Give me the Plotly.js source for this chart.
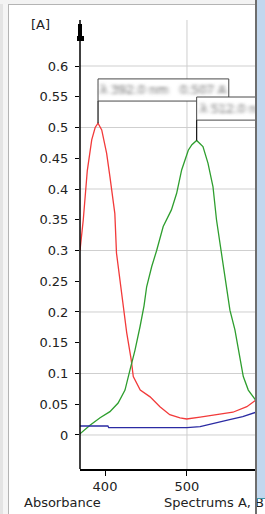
<!DOCTYPE html>
<html>
<head>
<meta charset="utf-8">
<script src="https://cdn.plot.ly/plotly-3.0.1.min.js"></script>
<style>
  html, body { margin:0; padding:0; background:#ffffff; overflow:hidden; }
  #wrap { position:relative; width:265px; height:514px; }
  #chart { position:absolute; left:0; top:0; width:265px; height:514px; }
  .ov { position:absolute; pointer-events:none; }
</style>
</head>
<body>
<svg width="0" height="0" style="position:absolute">
  <defs>
    <filter id="smudge" x="-10%" y="-60%" width="120%" height="220%">
      <feGaussianBlur stdDeviation="1.9 1.4"/>
    </filter>
  </defs>
</svg>
<div id="wrap">
  <div id="chart"></div>
  <!-- window frame decoration -->
  <div class="ov" style="left:0;top:0;width:3px;height:514px;background:#e4e4e4;"></div>
  <div class="ov" style="left:3px;top:0;width:5px;height:514px;background:#f5f5f5;"></div>
  <div class="ov" style="left:8px;top:4px;width:1px;height:510px;background:#b4b4b4;"></div>
  <div class="ov" style="left:0;top:0;width:255px;height:4px;background:#f3f3f3;"></div>
  <div class="ov" style="left:8px;top:4px;width:247px;height:1px;background:#b4b4b4;"></div>
  <div class="ov" style="left:255px;top:0;width:2px;height:514px;background:#6e6e6e;"></div>
  <div class="ov" style="left:257px;top:0;width:8px;height:498px;background:#c2d7ee;"></div>
  <div class="ov" style="left:257px;top:498px;width:8px;height:1px;background:#3f95a6;"></div>
</div>
<script>
// ---- data ----
const redX = [369.5, 373.5, 378.4, 383.8, 388, 391.5, 396, 402, 406, 412, 414, 418, 423, 426.5, 432, 434.5, 443, 455, 467, 479, 491.5, 499.6, 516, 536, 556, 573, 584.2];
const redY = [0.300, 0.350, 0.430, 0.480, 0.500, 0.507, 0.496, 0.458, 0.420, 0.360, 0.296, 0.252, 0.198, 0.166, 0.122, 0.095, 0.073, 0.062, 0.046, 0.033, 0.028, 0.026, 0.029, 0.033, 0.037, 0.046, 0.057];

const greenX = [369.5, 381.7, 394, 406, 416, 424.4, 430.5, 436.6, 442.7, 445, 447.6, 450.8, 457, 463, 471, 481, 487.4, 493.5, 501.6, 506, 511.8, 519.5, 525.6, 531.7, 536, 542, 550, 552.4, 558.5, 564.6, 568.7, 574.8, 584.2];
const greenY = [0.002, 0.016, 0.028, 0.038, 0.052, 0.073, 0.106, 0.138, 0.176, 0.190, 0.210, 0.241, 0.274, 0.300, 0.339, 0.366, 0.393, 0.431, 0.463, 0.472, 0.479, 0.469, 0.442, 0.404, 0.350, 0.296, 0.220, 0.203, 0.171, 0.127, 0.095, 0.073, 0.056];

const blueX = [369.5, 386, 403.5, 404.5, 450, 500, 516, 532, 552, 568, 584.2];
const blueY = [0.0146, 0.0146, 0.0146, 0.0120, 0.0120, 0.0120, 0.0135, 0.0190, 0.0250, 0.0300, 0.0370];

const yTicks = [0, 0.05, 0.1, 0.15, 0.2, 0.25, 0.3, 0.35, 0.4, 0.45, 0.5, 0.55, 0.6];
const yTickText = ["0", "0.05", "0.1", "0.15", "0.2", "0.25", "0.3", "0.35", "0.4", "0.45", "0.5", "0.55", "0.6"];
const xTicks = [400, 500];
const yGrid = [0, 0.1, 0.2, 0.3, 0.4, 0.5, 0.6];
const xGrid = [500];

const peakLabelA = "λ 392.0 nm   0.507 A";
const peakLabelB = "λ 512.0 nm   0.479";
const yUnit = "[A]";
const xLabelLeft = "Absorbance";
const xLabelRight = "Spectrums A, B";

// ---- helpers ----
function peak(xs, ys) {
  let i = 0;
  ys.forEach((v, k) => { if (v > ys[i]) i = k; });
  return [xs[i], ys[i]];
}
const pA = peak(redX, redY);
const pB = peak(greenX, greenY);

const xRange = [369.5, 584.2];
const yRange = [-0.0553, 0.6748];
const font = { family: "DejaVu Sans, Verdana, sans-serif", size: 13, color: "#222222" };

const traces = [
  { x: redX, y: redY, mode: "lines", line: { color: "#f23a3a", width: 1.3 }, hoverinfo: "skip" },
  { x: greenX, y: greenY, mode: "lines", line: { color: "#2e9e2e", width: 1.3 }, hoverinfo: "skip" },
  { x: blueX, y: blueY, mode: "lines", line: { color: "#2b2ba3", width: 1.3 }, hoverinfo: "skip" }
];

const shapes = [];
yGrid.forEach(v => shapes.push({ type: "line", xref: "paper", yref: "y", x0: 0, x1: 1, y0: v, y1: v,
  line: { color: "#cfcfcf", width: 1 }, layer: "below" }));
xGrid.forEach(v => shapes.push({ type: "line", xref: "x", yref: "paper", x0: v, x1: v, y0: 0, y1: 1,
  line: { color: "#cfcfcf", width: 1 }, layer: "below" }));

// peak label boxes (box B drawn after box A so it covers it)
const boxA = { x0: pA[0], x1: 551, y0: 0.543, y1: 0.579 };
const boxB = { x0: pB[0], x1: 600, y0: 0.512, y1: 0.5496 };
shapes.push({ type: "line", xref: "x", yref: "y", x0: pA[0], x1: pA[0], y0: pA[1], y1: boxA.y0, line: { color: "#111", width: 1.2 } });
shapes.push({ type: "rect", xref: "x", yref: "y", x0: boxA.x0, x1: boxA.x1, y0: boxA.y0, y1: boxA.y1,
  line: { color: "#4a4a4a", width: 1 }, fillcolor: "#ffffff" });
shapes.push({ type: "line", xref: "x", yref: "y", x0: pB[0], x1: pB[0], y0: pB[1], y1: boxB.y0, line: { color: "#111", width: 1.2 } });
shapes.push({ type: "rect", xref: "x", yref: "y", x0: boxB.x0, x1: boxB.x1, y0: boxB.y0, y1: boxB.y1,
  line: { color: "#4a4a4a", width: 1 }, fillcolor: "#ffffff" });

// y-axis arrow head at the top of the axis
shapes.push({ type: "path", xref: "paper", yref: "paper",
  path: "M -0.0114,0.9911 L 0.0114,0.9911 L 0.0114,0.9644 L 0.0227,0.9644 L 0.0227,0.9532 L -0.0170,0.9532 L -0.0170,0.9644 L -0.0114,0.9644 Z",
  fillcolor: "#000000", line: { width: 0 } });
shapes.push({ type: "line", xref: "paper", yref: "paper", x0: 0, x1: 0, y0: 0, y1: 1.0, line: { color: "#000", width: 1.5 } });

const annotations = [
  { text: peakLabelA, xref: "x", yref: "y", x: (boxA.x0 + boxA.x1) / 2, y: (boxA.y0 + boxA.y1) / 2,
    showarrow: false, font: { family: font.family, size: 12, color: "#6a6a6a" } },
  { text: peakLabelB, xref: "x", yref: "y", x: boxB.x0 + 2, y: (boxB.y0 + boxB.y1) / 2, xanchor: "left",
    showarrow: false, font: { family: font.family, size: 12, color: "#6a6a6a" } },
  { text: yUnit, xref: "paper", yref: "paper", x: -0.29, y: 0.991, xanchor: "left", yanchor: "middle",
    showarrow: false, font: font },
  { text: xLabelLeft, xref: "paper", yref: "paper", x: -0.33, y: -0.0757, xanchor: "left", yanchor: "middle",
    showarrow: false, font: font },
  { text: xLabelRight, xref: "paper", yref: "paper", x: 0.466, y: -0.0757, xanchor: "left", yanchor: "middle",
    showarrow: false, font: font }
];

const layout = {
  width: 265, height: 514,
  margin: { l: 80, r: 9, t: 20, b: 45, pad: 0 },
  paper_bgcolor: "#ffffff", plot_bgcolor: "#ffffff",
  showlegend: false,
  font: font,
  xaxis: { range: xRange, tickvals: xTicks, ticks: "outside", ticklen: 5, tickcolor: "#000", tickwidth: 1,
    showgrid: false, zeroline: false, showline: true, linecolor: "#000", linewidth: 1.5,
    tickfont: font, fixedrange: true },
  yaxis: { range: yRange, tickvals: yTicks, ticktext: yTickText, ticks: "outside", ticklen: 4, tickcolor: "#000", tickwidth: 1,
    showgrid: false, zeroline: false, showline: false, tickfont: font, ticklabelstandoff: 4, fixedrange: true },
  shapes: shapes,
  annotations: annotations
};

Plotly.newPlot("chart", traces, layout, { staticPlot: true, displayModeBar: false }).then(() => {
  document.querySelectorAll('.annotation[data-index="0"] text, .annotation[data-index="1"] text').forEach(t => {
    t.setAttribute("filter", "url(#smudge)");
  });
});
</script>
</body>
</html>
